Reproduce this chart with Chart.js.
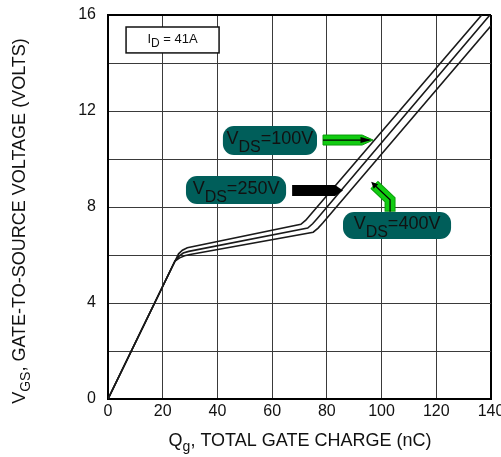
<!DOCTYPE html>
<html>
<head>
<meta charset="utf-8">
<script src="https://cdn.jsdelivr.net/npm/chart.js@4.4.1/dist/chart.umd.min.js"></script>
<style>
  html, body { margin: 0; padding: 0; background: #fff; }
  #wrap { width: 501px; height: 457px; }
</style>
</head>
<body>
<div id="wrap"><canvas id="gateChart" width="501" height="457"></canvas></div>
<script>
// Gate charge curves: Qg (nC) vs VGS (V), one per VDS
const qg100  = [0, 24.5, 25.8, 27.2, 29.0, 70.5, 72.3, 74.0, 136.6];
const vgs100 = [0, 5.75, 6.05, 6.20, 6.30, 7.28, 7.45, 7.68, 16.0];

const qg250  = [0, 24.5, 26.0, 27.5, 29.5, 73.0, 74.8, 76.5, 139.6];
const vgs250 = [0, 5.75, 5.95, 6.08, 6.15, 7.12, 7.30, 7.52, 16.0];

const qg400  = [0, 24.5, 26.2, 28.0, 30.0, 75.0, 76.8, 78.5, 140.0];
const vgs400 = [0, 5.75, 5.88, 5.97, 6.02, 6.95, 7.12, 7.33, 15.55];

const xTickValues = [0, 20, 40, 60, 80, 100, 120, 140];
const yTickLabels = [0, 4, 8, 12, 16];

const FONT = "'Liberation Sans', Arial, Helvetica, sans-serif";
Chart.defaults.font.family = FONT;
Chart.defaults.color = '#000';

const toPoints = (qs, vs) => qs.map((q, i) => ({ x: q, y: vs[i] }));

const lineStyle = {
    showLine: true,
    pointRadius: 0,
    borderColor: '#1a1a1a',
    borderWidth: 1.6,
    tension: 0,
    fill: false
};

// texto com subscrito: partes [{t, s, dy}]
function richWidth(ctx, parts) {
    let w = 0;
    parts.forEach(p => { ctx.font = p.s + 'px ' + FONT; w += ctx.measureText(p.t).width; });
    return w;
}
function drawRich(ctx, parts, x, y) {
    parts.forEach(p => {
        ctx.font = p.s + 'px ' + FONT;
        ctx.fillText(p.t, x, y + (p.dy || 0));
        x += ctx.measureText(p.t).width;
    });
}

function labelBox(ctx, x0, y0, x1, y1, parts) {
    ctx.fillStyle = '#005e5a';
    ctx.beginPath();
    ctx.roundRect(x0, y0, x1 - x0, y1 - y0, 11);
    ctx.fill();
    ctx.fillStyle = '#111';
    ctx.textBaseline = 'alphabetic';
    const w = richWidth(ctx, parts);
    drawRich(ctx, parts, (x0 + x1) / 2 - w / 2, (y0 + y1) / 2 + 4);
}

const annotationPlugin = {
    id: 'gateAnnotations',
    afterDatasetsDraw(chart) {
        const { ctx, scales: { x, y } } = chart;
        const px = v => x.getPixelForValue(v);
        const py = v => y.getPixelForValue(v);
        ctx.save();

        // I_D box
        ctx.fillStyle = '#fff';
        ctx.strokeStyle = '#111';
        ctx.lineWidth = 1.5;
        ctx.fillRect(px(6.6), py(15.5), px(40.6) - px(6.6), py(14.42) - py(15.5));
        ctx.strokeRect(px(6.6), py(15.5), px(40.6) - px(6.6), py(14.42) - py(15.5));
        ctx.fillStyle = '#111';
        const idParts = [{ t: 'I', s: 13 }, { t: 'D', s: 12, dy: 4 }, { t: ' = 41A', s: 13 }];
        const idW = richWidth(ctx, idParts);
        drawRich(ctx, idParts, (px(6.6) + px(40.6)) / 2 - idW / 2, py(14.96) + 3);

        // VDS = 100V
        labelBox(ctx, px(42.0), py(11.375), px(76.4), py(10.17),
            [{ t: 'V', s: 18 }, { t: 'DS', s: 16, dy: 8 }, { t: '=100V', s: 18 }]);
        // green arrow ->
        let ay = py(10.79);
        ctx.fillStyle = '#11cc11';
        ctx.strokeStyle = '#0b9a0b';
        ctx.lineWidth = 1;
        ctx.beginPath();
        ctx.moveTo(px(78.6), ay - 5);
        ctx.lineTo(px(92.9), ay - 5);
        ctx.lineTo(px(96.9), ay);
        ctx.lineTo(px(92.9), ay + 5);
        ctx.lineTo(px(78.6), ay + 5);
        ctx.closePath();
        ctx.fill();
        ctx.stroke();
        ctx.strokeStyle = '#000';
        ctx.lineWidth = 1.2;
        ctx.beginPath();
        ctx.moveTo(px(78.6), ay);
        ctx.lineTo(px(95.5), ay);
        ctx.stroke();
        ctx.fillStyle = '#000';
        ctx.beginPath();
        ctx.moveTo(px(96.3), ay);
        ctx.lineTo(px(92.3), ay - 3);
        ctx.lineTo(px(92.3), ay + 3);
        ctx.closePath();
        ctx.fill();

        // VDS = 250V
        labelBox(ctx, px(28.5), py(9.29), px(65.1), py(8.125),
            [{ t: 'V', s: 18 }, { t: 'DS', s: 16, dy: 8 }, { t: '=250V', s: 18 }]);
        // black arrow ->
        ay = py(8.69);
        ctx.fillStyle = '#000';
        ctx.beginPath();
        ctx.moveTo(px(67.3), ay - 5.5);
        ctx.lineTo(px(83.0), ay - 5.5);
        ctx.lineTo(px(85.9), ay);
        ctx.lineTo(px(83.0), ay + 5.5);
        ctx.lineTo(px(67.3), ay + 5.5);
        ctx.closePath();
        ctx.fill();

        // VDS = 400V
        labelBox(ctx, px(85.9), py(7.79), px(125.4), py(6.67),
            [{ t: 'V', s: 18 }, { t: 'DS', s: 16, dy: 8 }, { t: '=400V', s: 18 }]);
        // green arrow pointing up-left
        const p0 = [px(103.1), py(7.8)];
        const p1 = [px(103.1), py(8.3)];
        const p2 = [px(96.2), py(9.05)];
        ctx.lineJoin = 'miter';
        ctx.strokeStyle = '#0b9a0b';
        ctx.lineWidth = 11;
        ctx.beginPath();
        ctx.moveTo(p0[0], p0[1]); ctx.lineTo(p1[0], p1[1]); ctx.lineTo(p2[0] + 3, p2[1] + 3);
        ctx.stroke();
        ctx.strokeStyle = '#11cc11';
        ctx.lineWidth = 9;
        ctx.beginPath();
        ctx.moveTo(p0[0], p0[1] - 1); ctx.lineTo(p1[0], p1[1]); ctx.lineTo(p2[0] + 3, p2[1] + 3);
        ctx.stroke();
        ctx.strokeStyle = '#000';
        ctx.lineWidth = 1.2;
        ctx.beginPath();
        ctx.moveTo(p0[0], p0[1]); ctx.lineTo(p1[0], p1[1]); ctx.lineTo(p2[0] + 2, p2[1] + 2);
        ctx.stroke();
        ctx.fillStyle = '#000';
        ctx.beginPath();
        ctx.moveTo(p2[0], p2[1]);
        ctx.lineTo(p2[0] + 7, p2[1] + 2.5);
        ctx.lineTo(p2[0] + 2.5, p2[1] + 7);
        ctx.closePath();
        ctx.fill();

        ctx.restore();
    },
    afterDraw(chart) {
        const { ctx } = chart;
        ctx.save();
        ctx.fillStyle = '#111';
        ctx.textBaseline = 'alphabetic';
        // X axis title
        const xParts = [{ t: 'Q', s: 18 }, { t: 'g', s: 14, dy: 5 }, { t: ', TOTAL GATE CHARGE (nC)', s: 18 }];
        const xw = richWidth(ctx, xParts);
        drawRich(ctx, xParts, 300 - xw / 2, 446);
        // Y axis title
        const yParts = [{ t: 'V', s: 18 }, { t: 'GS', s: 14, dy: 5 }, { t: ', GATE-TO-SOURCE VOLTAGE (VOLTS)', s: 18 }];
        const yw = richWidth(ctx, yParts);
        ctx.translate(25, 221);
        ctx.rotate(-Math.PI / 2);
        drawRich(ctx, yParts, -yw / 2, 0);
        ctx.restore();
    }
};

const edgeWidth = (edge) => (c) => (c.tick && c.tick.value === edge ? 2 : 1);
const edgeColor = (edge) => (c) => (c.tick && c.tick.value === edge ? '#000' : '#3a3a3a');

new Chart(document.getElementById('gateChart'), {
    type: 'scatter',
    data: {
        datasets: [
            { label: 'VDS=100V', data: toPoints(qg100, vgs100), ...lineStyle },
            { label: 'VDS=250V', data: toPoints(qg250, vgs250), ...lineStyle },
            { label: 'VDS=400V', data: toPoints(qg400, vgs400), ...lineStyle }
        ]
    },
    options: {
        responsive: false,
        animation: false,
        layout: { padding: { top: 15, right: 10, left: 0, bottom: 0 } },
        plugins: { legend: { display: false }, tooltip: { enabled: false } },
        scales: {
            x: {
                type: 'linear',
                min: 0,
                max: 140,
                afterBuildTicks: s => { s.ticks = xTickValues.map(v => ({ value: v })); },
                ticks: { font: { size: 16 }, padding: 3, maxRotation: 0, autoSkip: false, color: '#111' },
                grid: { drawTicks: false, color: edgeColor(140), lineWidth: edgeWidth(140) },
                border: { display: true, color: '#000', width: 2 },
                afterFit: s => { s.height = 58; s.paddingLeft = 0; s.paddingRight = 0; }
            },
            y: {
                type: 'linear',
                min: 0,
                max: 16,
                ticks: {
                    stepSize: 2,
                    font: { size: 16 },
                    padding: 12,
                    color: '#111',
                    autoSkip: false,
                    callback: v => (yTickLabels.includes(v) ? String(v) : '')
                },
                grid: { drawTicks: false, color: edgeColor(16), lineWidth: edgeWidth(16) },
                border: { display: true, color: '#000', width: 2 },
                afterFit: s => { s.width = 108; s.paddingTop = 0; s.paddingBottom = 0; }
            }
        }
    },
    plugins: [annotationPlugin]
});
</script>
</body>
</html>
